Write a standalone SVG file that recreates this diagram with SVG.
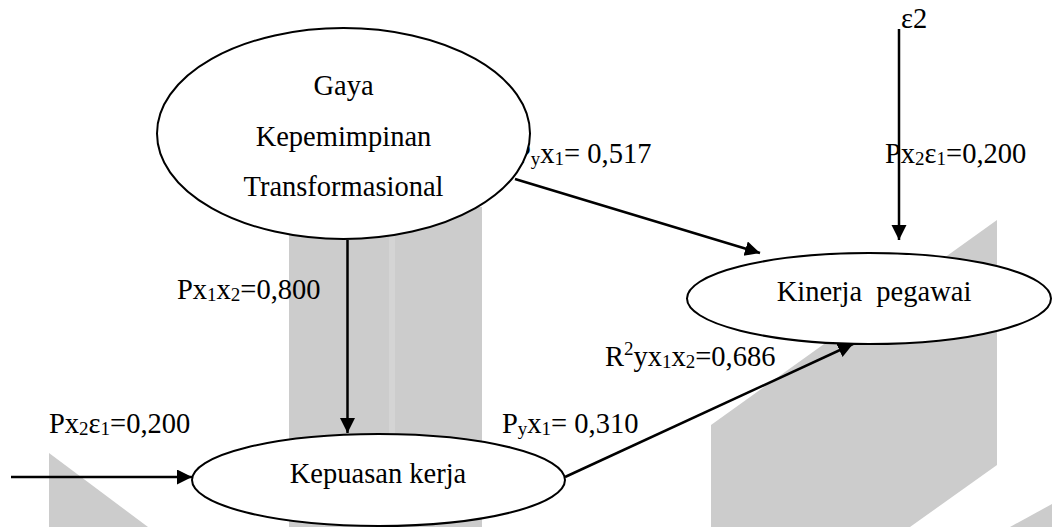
<svg xmlns="http://www.w3.org/2000/svg" width="1052" height="527" viewBox="0 0 1052 527">
  <style>
    .bg { fill: #cccccc; }
    .node { fill: #ffffff; stroke: #000000; stroke-width: 2; }
    .conn { stroke: #000000; stroke-width: 2.5; fill: none; marker-end: url(#arrow); }
    text { font-family: "Liberation Serif", "Times New Roman", serif; font-size: 28.5px; fill: #000000; }
    .c { text-anchor: middle; }
    .s { font-size: 19px; }
  </style>
  <defs>
    <marker id="arrow" markerUnits="userSpaceOnUse" markerWidth="16" markerHeight="16" refX="15" refY="7.5" orient="auto">
      <path d="M0,0 L15,7.5 L0,15 Z" fill="#000000"/>
    </marker>
  </defs>
  <rect width="1052" height="527" fill="#ffffff"/>

  <g id="background">
    <rect class="bg" x="289" y="207" width="193" height="320"/>
    <rect x="389" y="207" width="6" height="320" fill="#d4d4d4"/>
    <polygon class="bg" points="49,453 148,527 49,527"/>
    <polygon class="bg" points="711,425 997,220 997,465 910,527 711,527"/>
    <polygon class="bg" points="1010,527 1052,504 1052,527"/>
  </g>

  <g id="labels">
    <text x="177" y="299">Px<tspan class="s" dy="2">1</tspan><tspan dy="-2">x</tspan><tspan class="s" dy="2">2</tspan><tspan dy="-2">=0,800</tspan></text>
    <text x="49" y="433">Px<tspan class="s" dy="2">2</tspan><tspan dy="-2">ε</tspan><tspan class="s" dy="2">1</tspan><tspan dy="-2">=0,200</tspan></text>
    <text x="502" y="433">P<tspan class="s" dy="2">y</tspan><tspan dy="-2">x</tspan><tspan class="s" dy="2">1</tspan><tspan dy="-2">= 0,310</tspan></text>
    <text x="605" y="366">R<tspan class="s" dy="-11">2</tspan><tspan dy="11">yx</tspan><tspan class="s" dy="2">1</tspan><tspan dy="-2">x</tspan><tspan class="s" dy="2">2</tspan><tspan dy="-2">=0,686</tspan></text>
    <text x="515" y="163">P<tspan class="s" dy="2">y</tspan><tspan dy="-2">x</tspan><tspan class="s" dy="2">1</tspan><tspan dy="-2">= 0,517</tspan></text>
    <text x="885" y="163">Px<tspan class="s" dy="2">2</tspan><tspan dy="-2">ε</tspan><tspan class="s" dy="2">1</tspan><tspan dy="-2">=0,200</tspan></text>
    <text x="901" y="28">ε2</text>
  </g>

  <g id="connectors">
    <line class="conn" x1="899" y1="29" x2="899" y2="240"/>
    <line class="conn" x1="515" y1="179" x2="760" y2="253"/>
    <line class="conn" x1="347.5" y1="240" x2="347.5" y2="433"/>
    <line class="conn" x1="11" y1="477" x2="192" y2="477"/>
    <line class="conn" x1="565" y1="477" x2="853" y2="344"/>
  </g>

  <g id="node-gaya">
    <ellipse class="node" cx="343.5" cy="133.5" rx="186.5" ry="105.5"/>
    <text class="c" x="343.5" y="95">Gaya</text>
    <text class="c" x="343.5" y="146">Kepemimpinan</text>
    <text class="c" x="343.5" y="196">Transformasional</text>
  </g>

  <g id="node-kinerja">
    <ellipse class="node" cx="869" cy="298.5" rx="182" ry="45.5"/>
    <text class="c" x="874" y="301" xml:space="preserve">Kinerja  pegawai</text>
  </g>

  <g id="node-kepuasan">
    <ellipse class="node" cx="378.5" cy="480" rx="186.5" ry="46"/>
    <text class="c" x="378" y="483">Kepuasan kerja</text>
  </g>
</svg>
